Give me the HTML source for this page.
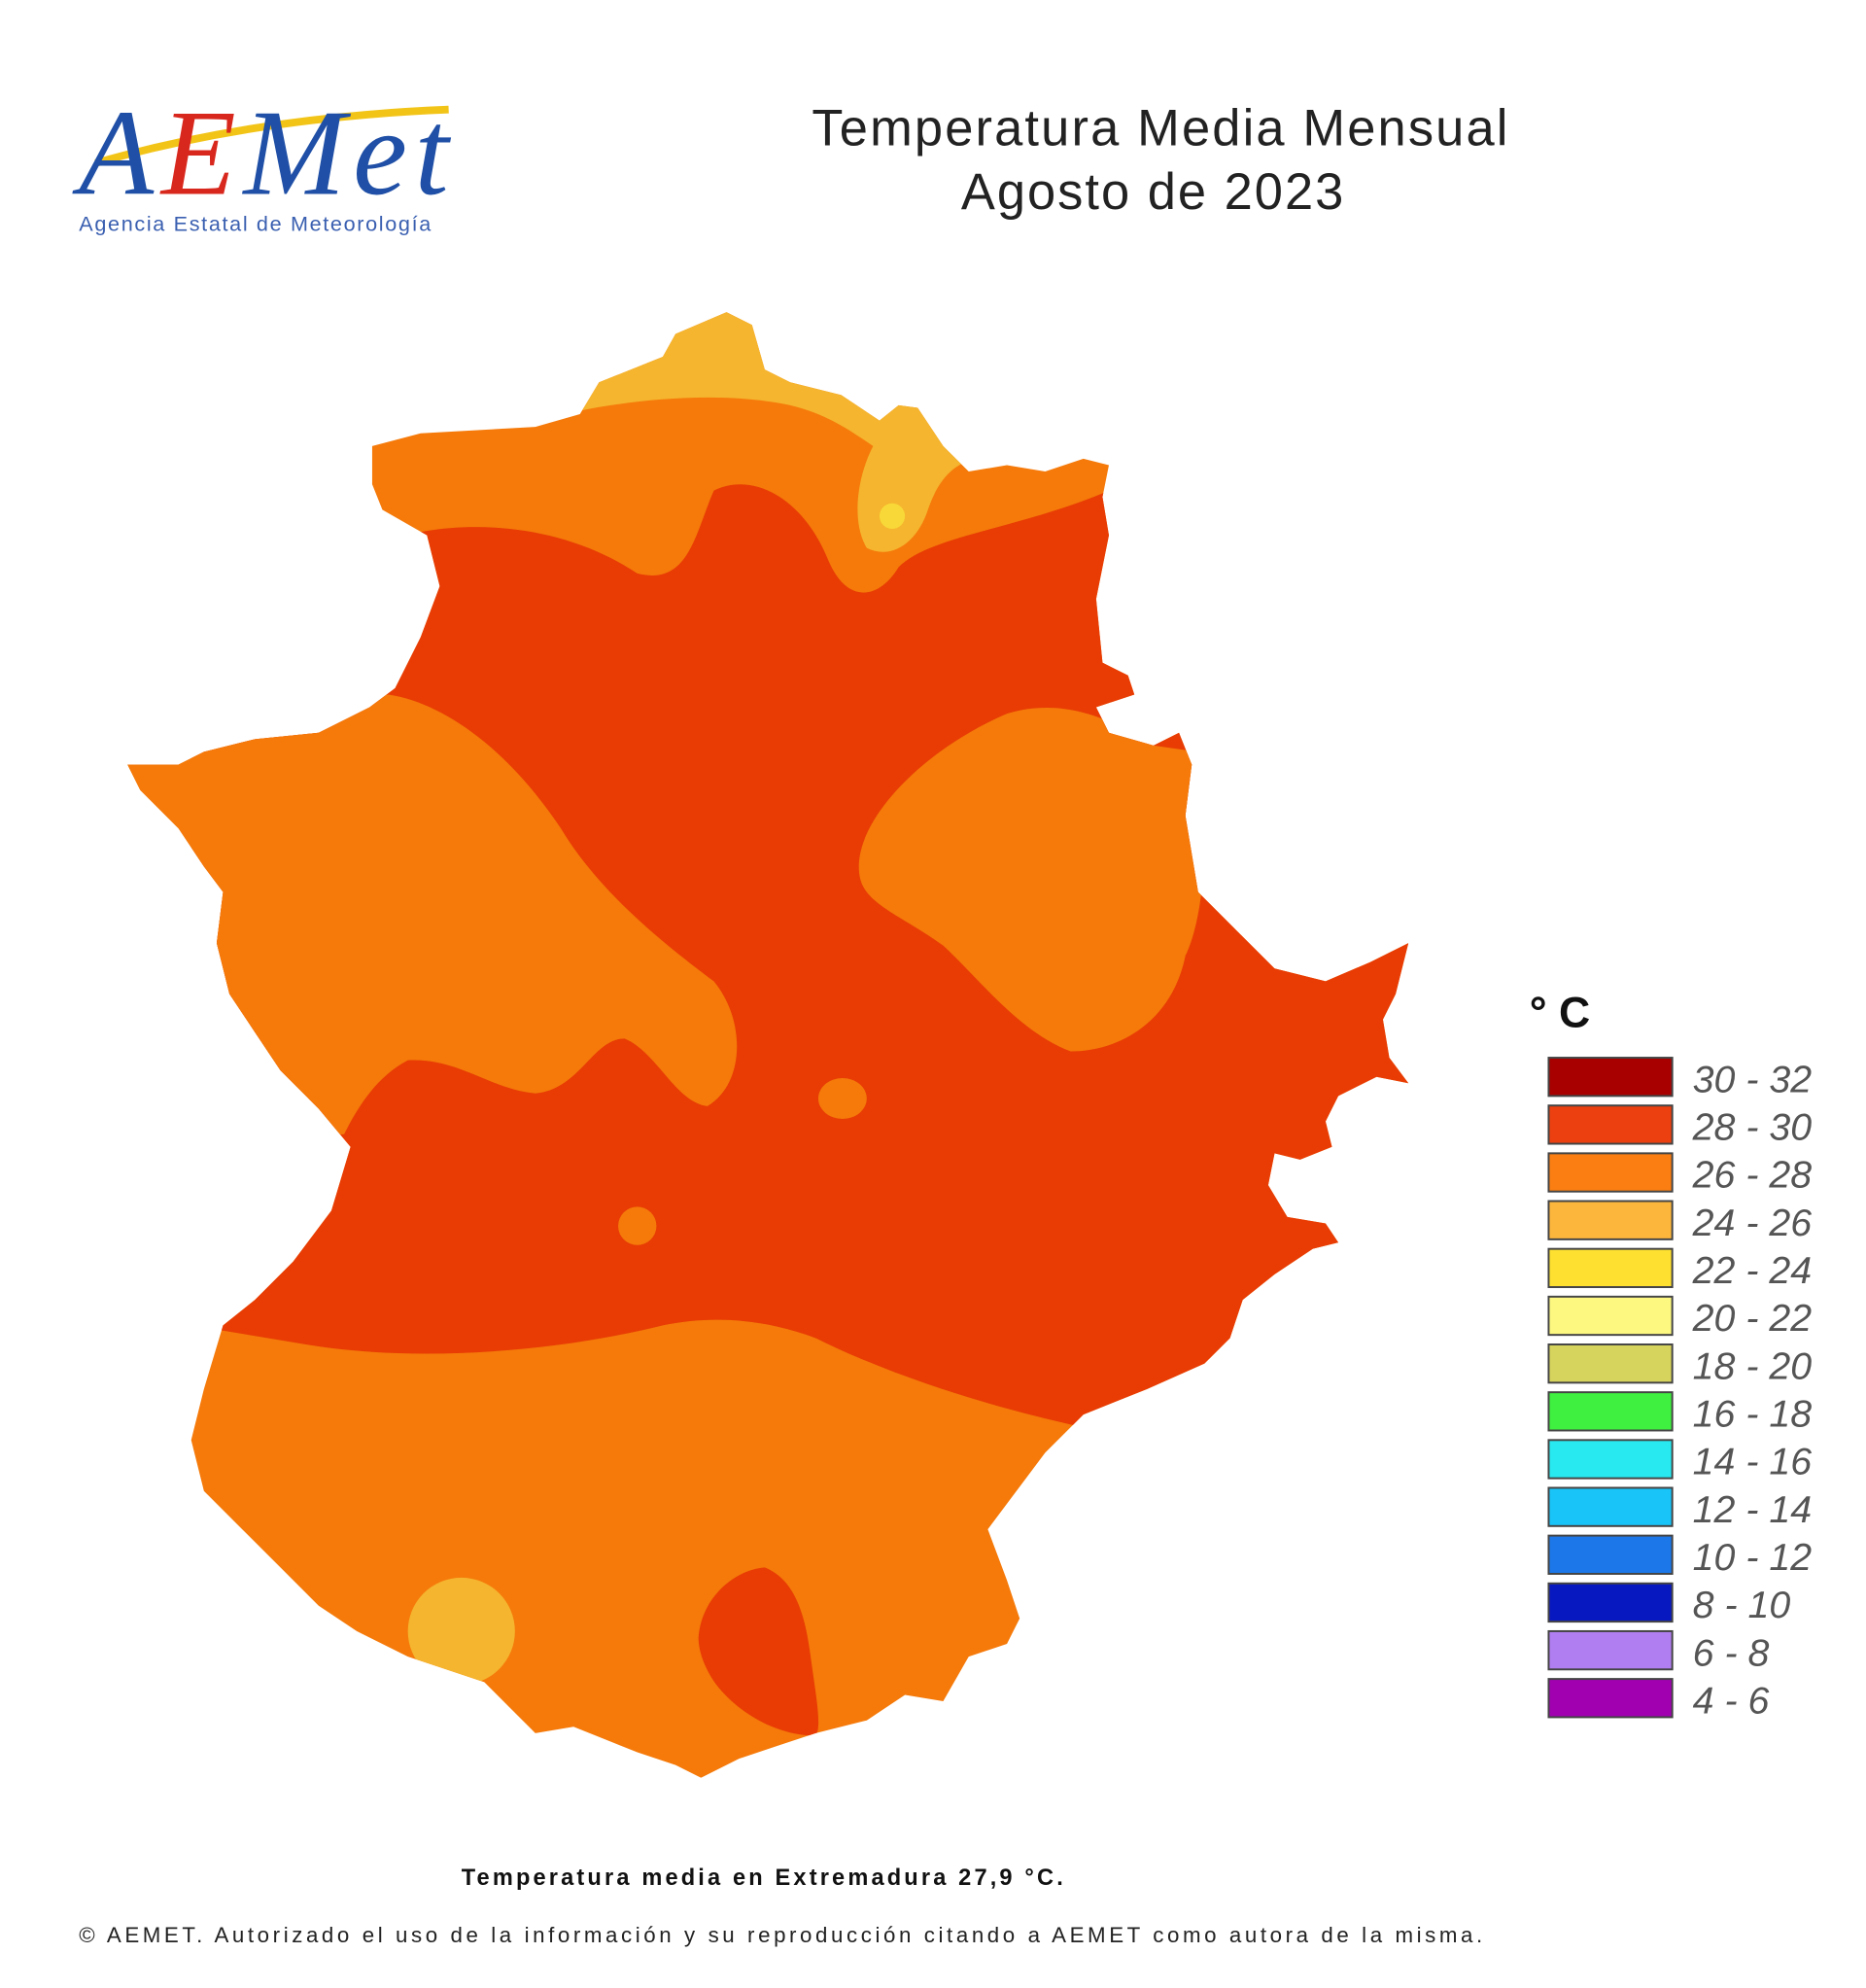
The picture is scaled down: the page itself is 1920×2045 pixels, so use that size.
<!DOCTYPE html>
<html><head><meta charset="utf-8"><style>
html,body{margin:0;padding:0;background:#fff;}
svg{display:block;}
</style></head><body>
<svg id="chart" width="1920" height="2045" viewBox="0 0 1464 1560" preserveAspectRatio="none" xmlns="http://www.w3.org/2000/svg" font-family="Liberation Sans, sans-serif">
<rect width="1464" height="1560" fill="#fff"/>
<g>
  <path d="M75 128 Q200 92 352 86" stroke="#f2c418" stroke-width="6" fill="none"/>
  <text x="62" y="152" font-family="Liberation Serif, serif" font-style="italic" font-size="96" fill="#1f4fa6" textLength="290">A<tspan fill="#d8281e">E</tspan>Met</text>
  <text x="62" y="181" font-size="16.5" fill="#3a5fb0" textLength="276">Agencia Estatal de Meteorología</text>
</g>
<text x="910" y="114" text-anchor="middle" font-size="40" fill="#222" textLength="546">Temperatura Media Mensual</text>
<text x="904" y="164" text-anchor="middle" font-size="40" fill="#222" textLength="300">Agosto de 2023</text>
<defs>
<clipPath id="reg"><path id="outline" d="M292,350 L330,340 420,335 455,325 470,300 520,280 530,262 570,245 590,255 600,290 620,300 660,310 690,330 705,318 720,320 740,350 760,370 790,365 820,370 850,360 870,365 865,390 870,420 860,470 865,520 885,530 890,545 860,555 870,575 905,585 925,575 935,600 930,640 940,700 960,720 1000,760 1040,770 1075,755 1105,740 1095,780 1085,800 1090,830 1105,850 1080,845 1050,860 1040,880 1045,900 1020,910 1000,905 995,930 1010,955 1040,960 1050,975 1030,980 1000,1000 975,1020 965,1050 945,1070 900,1090 850,1110 820,1140 790,1180 775,1200 790,1240 800,1270 790,1290 760,1300 740,1335 710,1330 680,1350 640,1360 610,1370 580,1380 550,1395 530,1385 500,1375 450,1355 420,1360 400,1340 380,1320 350,1310 320,1300 280,1280 250,1260 220,1230 190,1200 160,1170 150,1130 160,1090 175,1040 200,1020 230,990 260,950 275,900 250,870 220,840 200,810 180,780 170,740 175,700 160,680 140,650 110,620 100,600 140,600 160,590 200,580 250,575 290,555 310,540 330,500 345,460 335,420 300,400 292,380 Z"/></clipPath>
</defs>
<g clip-path="url(#reg)">
  <rect x="0" y="200" width="1300" height="1300" fill="#f57a0a"/>
  <path fill="#e83c04" d="M300,425 C360,405 440,410 500,450 C540,460 545,420 560,385 C590,370 630,390 650,440 C665,475 690,470 705,445 C730,420 800,415 870,385 L1200,380 L1200,1125 L850,1120 C780,1105 700,1080 640,1050 C600,1035 560,1032 520,1040 C440,1060 330,1070 240,1055 L150,1040 L150,425 Z"/>
  <path fill="#f57a0a" d="M80,560 L305,545 C350,552 400,590 440,650 C470,700 520,740 560,770 C585,800 585,850 555,868 C530,865 515,825 490,815 C465,815 455,855 420,858 C385,855 360,830 320,832 C295,845 280,870 270,890 L80,900 Z"/>
  <path fill="#f57a0a" d="M675,690 C665,650 720,590 790,560 C840,545 880,570 905,585 L940,590 C950,650 945,720 930,750 C920,800 880,825 840,825 C800,810 770,770 740,742 C710,720 680,710 675,690 Z"/>
  <ellipse cx="661" cy="862" rx="19" ry="16" fill="#f57a0a"/>
  <circle cx="500" cy="962" r="15" fill="#f57a0a"/>
  <path fill="#f5b52e" d="M430,328 C480,315 560,305 620,318 C650,325 670,340 685,350 C672,375 668,410 680,430 C700,440 720,425 728,400 C735,380 745,365 765,360 L760,240 L430,240 Z"/>
  <circle cx="700" cy="405" r="10" fill="#f8d838"/>
  <circle cx="362" cy="1280" r="42" fill="#f5b52e"/>
  <path fill="#e83c04" d="M548,1285 C550,1255 575,1232 600,1230 C625,1240 632,1270 636,1300 C640,1330 645,1355 640,1362 C610,1362 580,1345 562,1322 C552,1308 548,1295 548,1285 Z"/>
</g>
<text x="1200" y="806" font-size="34" font-weight="bold" fill="#111">° C</text>
<g id="legend"></g>
<text x="598" y="1479" text-anchor="middle" font-size="18" font-weight="bold" fill="#111" textLength="472">Temperatura media en Extremadura 27,9 °C.</text>
<text x="62" y="1524" font-size="17" fill="#222" textLength="1101">© AEMET. Autorizado el uso de la información y su reproducción citando a AEMET como autora de la misma.</text>
</svg>
<script>
const legendLabels = ["30 - 32","28 - 30","26 - 28","24 - 26","22 - 24","20 - 22","18 - 20","16 - 18","14 - 16","12 - 14","10 - 12","8 - 10","6 - 8","4 - 6"];
const legendColors = ["#a80000","#ec4010","#fb7e12","#fdb63c","#fde030","#fcf880","#d6d45c","#40f040","#28e8f0","#18c4f8","#1c78e8","#0818c0","#b07ef0","#a000b0"];
const NS = "http://www.w3.org/2000/svg";
const lg = document.getElementById('legend');
const top0 = 830, step = 37.5, bx = 1215, bw = 97, bh = 30;
legendLabels.forEach((lab, i) => {
  const y = top0 + i * step;
  const r = document.createElementNS(NS, 'rect');
  r.setAttribute('x', bx); r.setAttribute('y', y);
  r.setAttribute('width', bw); r.setAttribute('height', bh);
  r.setAttribute('fill', legendColors[i]);
  r.setAttribute('stroke', '#444'); r.setAttribute('stroke-width', '1.5');
  
  
  lg.appendChild(r);
  const t = document.createElementNS(NS, 'text');
  t.setAttribute('x', 1328); t.setAttribute('y', y + 27);
  t.setAttribute('font-size', '30'); t.setAttribute('font-style', 'italic');
  t.setAttribute('fill', '#555');
  t.textContent = lab;
  
  
  lg.appendChild(t);
});
</script>
</body></html>
